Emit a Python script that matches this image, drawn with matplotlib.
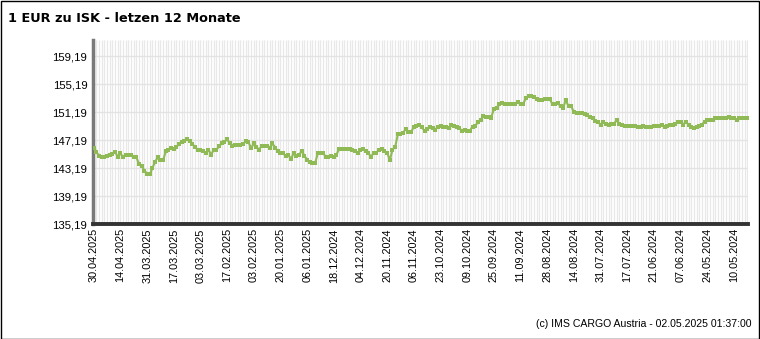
import numpy as np
import matplotlib.pyplot as plt

# EUR/ISK daily rates, newest first (30.04.2025 back to early May 2024)
rates = [
    146.1, 145.5, 144.9, 144.8, 144.8, 144.9, 145.0, 145.2, 145.5, 144.8,
    145.3, 144.7, 145.1, 145.1, 145.1, 144.7, 144.7, 143.7, 143.5, 142.8,
    142.4, 142.3, 143.2, 144.1, 144.7, 144.3, 144.3, 145.6, 145.8, 146.1,
    145.9, 146.2, 146.6, 146.9, 147.0, 147.3, 147.0, 146.6, 146.2, 145.8,
    145.8, 145.6, 145.3, 145.8, 145.1, 145.8, 145.8, 146.3, 146.7, 146.9,
    147.3, 146.7, 146.4, 146.5, 146.5, 146.5, 146.6, 147.0, 146.9, 146.0,
    146.7, 146.2,
    145.8, 146.4, 146.4, 146.4, 146.1, 146.7, 146.1, 145.6, 145.3, 145.3,
    144.9, 145.0, 144.5, 145.4, 144.9, 145.1, 145.6, 144.9, 144.4, 144.0,
    143.9, 143.9, 145.3, 145.3, 145.3, 144.8, 144.8, 144.9, 144.8, 145.1,
    145.9, 145.9, 145.9, 145.9, 145.9, 145.8, 145.6, 145.4, 145.8, 145.9,
    145.6, 145.3, 144.8, 145.4, 145.4, 145.8, 145.9, 145.6, 145.4, 144.3,
    145.8, 146.2, 148.0, 148.1, 148.2, 148.8, 148.3, 148.3, 149.1, 149.2,
    149.3, 149.0,
    148.5, 148.7, 149.1, 148.95, 148.6, 149.1, 149.2, 149.1, 149.1, 148.95,
    149.4, 149.2, 149.1, 148.95, 148.5, 148.6, 148.5, 148.5, 149.1, 149.2,
    149.7, 150.05, 150.6, 150.5, 150.5, 150.4, 151.6, 151.8, 152.3, 152.5,
    152.4, 152.4, 152.3, 152.4, 152.4, 152.6, 152.3, 152.3, 153.2, 153.5,
    153.5, 153.4, 153.0, 152.9, 152.9, 153.0, 153.0, 153.0, 152.3, 152.3,
    152.5, 152.0, 151.8, 152.9, 152.0, 152.0, 151.2, 151.1, 151.1, 151.1,
    150.9,
    150.8, 150.5, 150.4, 149.9, 149.8, 149.4, 149.8, 149.5, 149.4, 149.5,
    149.5, 150.0, 149.5, 149.4, 149.2, 149.2, 149.2, 149.2, 149.2, 149.05,
    149.05, 149.2, 149.05, 149.05, 149.05, 149.2, 149.2, 149.2, 149.3, 149.05,
    149.2, 149.3, 149.4, 149.5, 149.7, 149.8, 149.4, 149.8, 149.4, 149.05,
    148.9, 149.0, 149.2, 149.4, 149.8, 150.0, 150.0, 150.0, 150.3, 150.3,
    150.3, 150.4, 150.4, 150.5, 150.4, 150.4, 150.1, 150.3, 150.4, 150.4,
    150.3,
]

# one label every 10 trading days
date_labels = [
    "30.04.2025", "14.04.2025", "31.03.2025", "17.03.2025", "03.03.2025",
    "17.02.2025", "03.02.2025", "20.01.2025", "06.01.2025", "18.12.2024",
    "04.12.2024", "20.11.2024", "06.11.2024", "23.10.2024", "09.10.2024",
    "25.09.2024", "11.09.2024", "28.08.2024", "14.08.2024", "31.07.2024",
    "17.07.2024", "21.06.2024", "07.06.2024", "24.05.2024", "10.05.2024",
]

y_ticks = [135.19, 139.19, 143.19, 147.19, 151.19, 155.19, 159.19]

W, H = 760, 339
fig = plt.figure(figsize=(W / 100, H / 100), dpi=100)
plt.rcParams["font.family"] = ["Liberation Sans", "DejaVu Sans"]

ax = fig.add_axes([93 / W, (H - 224) / H, (748 - 93) / W, 184 / H])

x = np.arange(len(rates))
ax.set_xlim(-0.3, len(rates) - 0.7)
ax.set_ylim(135.19, 135.19 + 184 / 7)

# dense vertical grid, one line per day
ax.vlines(x, 135.19, 135.19 + 184 / 7, color="#e8e8e8", lw=0.9, zorder=0)
for yt in y_ticks[1:]:
    ax.axhline(yt, color="#e3e3e3", lw=1.0, zorder=1)

ax.plot(x, rates, color="#8fba55", lw=1.5, marker="s", ms=2.2,
        markeredgewidth=0, zorder=3)

ax.set_yticks(y_ticks)
ax.set_yticklabels([f"{v:.2f}".replace(".", ",") for v in y_ticks], fontsize=8.2)
ax.set_xticks(x[::10][:len(date_labels)])
ax.set_xticklabels(date_labels, rotation=90, fontsize=7.8, va="top")
ax.tick_params(length=0, pad=4)
ax.tick_params(axis="x", pad=3)

for s in ("top", "right"):
    ax.spines[s].set_visible(False)
ax.spines["left"].set_color("#7a7a7a")
ax.spines["left"].set_linewidth(2.5)
ax.spines["bottom"].set_color("#333333")
ax.spines["bottom"].set_linewidth(2.8)

fig.text(8 / W, 1 - 18 / H, "1 EUR zu ISK - letzen 12 Monate", fontsize=9.3,
         fontweight="bold", family="DejaVu Sans", va="center", ha="left")
fig.text(752 / W, 1 - 324 / H, "(c) IMS CARGO Austria - 02.05.2025 01:37:00",
         fontsize=7.6, va="center", ha="right")

# frame around the whole image
fig.patches.append(plt.Rectangle((0.5 / W, 0.5 / H), 1 - 1.5 / W, 1 - 1.5 / H,
                                 transform=fig.transFigure, fill=False,
                                 edgecolor="black", lw=1.0))

fig.savefig("out.png", dpi=100)
